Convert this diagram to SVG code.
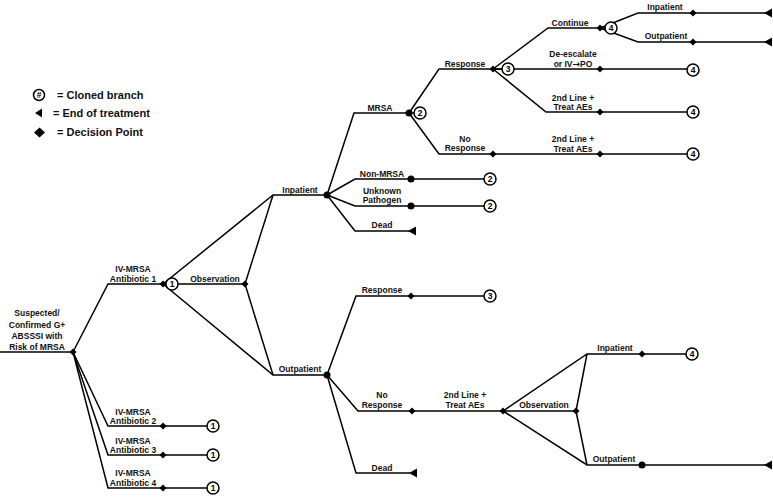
<svg xmlns="http://www.w3.org/2000/svg" xmlns:xlink="http://www.w3.org/1999/xlink" width="773" height="499" viewBox="0 0 773 499">
<style>
.ln{stroke:#000;stroke-width:1.5;fill:none;stroke-linejoin:miter}
.t{font-family:"Liberation Sans",Arial,sans-serif;font-size:8.5px;font-weight:bold;text-anchor:middle;fill:#111}
.lg{font-family:"Liberation Sans",Arial,sans-serif;font-size:11px;font-weight:bold;fill:#111}
.cc{fill:#fff;stroke:#000;stroke-width:1.5}
.cn{font-family:"Liberation Sans",Arial,sans-serif;font-size:8.5px;font-weight:bold;text-anchor:middle;fill:#000}
.ar{font-family:"DejaVu Sans",sans-serif;font-size:9px;font-weight:bold}
</style>
<defs>
<path id="dm" d="M0,-3.5L3.5,0L0,3.5L-3.5,0Z" fill="#000"/>
<circle id="dt" r="3.5" fill="#000"/>
<path id="tri" d="M0,0L8,-4.5L8,4.5Z" fill="#000"/>
</defs>
<rect width="773" height="499" fill="#fff"/>

<g id="legend">
<circle class="cc" cx="39" cy="95" r="5.5"/><text class="cn" x="39" y="97.5" font-size="7">#</text>
<text class="lg" x="57" y="99">= Cloned branch</text>
<path d="M35,113L42,108.5L42,117.5Z" fill="#000"/>
<text class="lg" x="53" y="117">= End of treatment</text>
<path d="M39.5,127.5L45,132.5L39.5,137.5L34,132.5Z" fill="#000"/>
<text class="lg" x="57" y="136">= Decision Point</text>
</g>

<g id="connectors">
<path class="ln" d="M0,352H73"/>
<path class="ln" d="M73,352L108,284H163"/>
<path class="ln" d="M73,352L108,426H213"/>
<path class="ln" d="M73,352L108,455H213"/>
<path class="ln" d="M73,352L108,488H213"/>
<path class="ln" d="M163,284L273,195H327"/>
<path class="ln" d="M163,284H245"/>
<path class="ln" d="M163,284L273,375H327"/>
<path class="ln" d="M245,284L273,195"/>
<path class="ln" d="M245,284L273,375"/>
<path class="ln" d="M327,195L354,113H420"/>
<path class="ln" d="M327,195L355,179H490"/>
<path class="ln" d="M327,195L355,206H490"/>
<path class="ln" d="M327,195L355,231H410"/>
<path class="ln" d="M409,113L439,69H508"/>
<path class="ln" d="M409,113L439,154H693"/>
<path class="ln" d="M493,69L548,28H611"/>
<path class="ln" d="M493,69H693"/>
<path class="ln" d="M493,69L546,112H693"/>
<path class="ln" d="M600,28L638,13H766"/>
<path class="ln" d="M600,28L638,42H766"/>
<path class="ln" d="M327,375L356,296H490"/>
<path class="ln" d="M327,375L358,411H503"/>
<path class="ln" d="M327,375L356,473H410"/>
<path class="ln" d="M503,411L587,354H692"/>
<path class="ln" d="M503,411H576"/>
<path class="ln" d="M503,411L587,465H766"/>
<path class="ln" d="M576,411L587,354"/>
<path class="ln" d="M576,411L587,465"/>
</g>

<g id="root">
<use xlink:href="#dm" x="73" y="352"/>
<text class="t" x="37" y="316">Suspected/</text>
<text class="t" x="37" y="327.5">Confirmed G+</text>
<text class="t" x="37" y="339">ABSSSI with</text>
<text class="t" x="37" y="350">Risk of MRSA</text>
</g>

<g id="ab1">
<text class="t" x="133" y="271.5">IV-MRSA</text>
<text class="t" x="133" y="282">Antibiotic 1</text>
<use xlink:href="#dm" x="163" y="284"/>
<circle class="cc" cx="172" cy="284" r="6"/><text class="cn" x="172" y="287">1</text>
</g>
<g id="ab2">
<text class="t" x="133" y="414.5">IV-MRSA</text>
<text class="t" x="133" y="424">Antibiotic 2</text>
<use xlink:href="#dm" x="163" y="426"/>
<circle class="cc" cx="213" cy="426" r="6"/><text class="cn" x="213" y="429">1</text>
</g>
<g id="ab3">
<text class="t" x="133" y="444">IV-MRSA</text>
<text class="t" x="133" y="453">Antibiotic 3</text>
<use xlink:href="#dm" x="163" y="455"/>
<circle class="cc" cx="213" cy="455" r="6"/><text class="cn" x="213" y="458">1</text>
</g>
<g id="ab4">
<text class="t" x="133" y="476">IV-MRSA</text>
<text class="t" x="133" y="486">Antibiotic 4</text>
<use xlink:href="#dm" x="163" y="488"/>
<circle class="cc" cx="213" cy="488" r="6"/><text class="cn" x="213" y="491">1</text>
</g>

<g id="observation1">
<text class="t" x="215" y="281.5">Observation</text>
<use xlink:href="#dm" x="245" y="284"/>
</g>

<g id="inpatient1">
<text class="t" x="300" y="193">Inpatient</text>
<use xlink:href="#dt" x="327" y="195"/>
</g>

<g id="mrsa">
<text class="t" x="380" y="111">MRSA</text>
<use xlink:href="#dt" x="409" y="113"/>
<circle class="cc" cx="420" cy="113" r="6"/><text class="cn" x="420" y="116">2</text>
</g>
<g id="nonmrsa">
<text class="t" x="382" y="177">Non-MRSA</text>
<use xlink:href="#dt" x="411" y="179"/>
<circle class="cc" cx="490" cy="179" r="6"/><text class="cn" x="490" y="182">2</text>
</g>
<g id="unknown">
<text class="t" x="382" y="193.5">Unknown</text>
<text class="t" x="382" y="202.5">Pathogen</text>
<use xlink:href="#dt" x="411" y="206"/>
<circle class="cc" cx="490" cy="206" r="6"/><text class="cn" x="490" y="209">2</text>
</g>
<g id="dead1">
<text class="t" x="382" y="228">Dead</text>
<use xlink:href="#tri" x="408" y="231"/>
</g>

<g id="response1">
<text class="t" x="465" y="67">Response</text>
<use xlink:href="#dm" x="493" y="69"/>
<circle class="cc" cx="508" cy="69" r="6"/><text class="cn" x="508" y="72">3</text>
</g>
<g id="noresponse1">
<text class="t" x="465" y="142">No</text>
<text class="t" x="465" y="151">Response</text>
<use xlink:href="#dm" x="493" y="154"/>
<text class="t" x="573" y="142">2nd Line +</text>
<text class="t" x="573" y="151.5">Treat AEs</text>
<use xlink:href="#dm" x="600" y="154"/>
<circle class="cc" cx="693" cy="154" r="6"/><text class="cn" x="693" y="157">4</text>
</g>

<g id="continue">
<text class="t" x="570" y="26">Continue</text>
<use xlink:href="#dm" x="600" y="28"/>
<circle class="cc" cx="611" cy="28" r="6"/><text class="cn" x="611" y="31">4</text>
</g>
<g id="inpatient-top">
<text class="t" x="665" y="9.5">Inpatient</text>
<use xlink:href="#dm" x="693" y="13"/>
<use xlink:href="#tri" x="764" y="13"/>
</g>
<g id="outpatient-top">
<text class="t" x="666" y="38.5">Outpatient</text>
<use xlink:href="#dm" x="693" y="42"/>
<use xlink:href="#tri" x="764" y="42"/>
</g>
<g id="deescalate">
<text class="t" x="573" y="57">De-escalate</text>
<text class="t" x="573" y="66.5">or IV<tspan class="ar">→</tspan>PO</text>
<use xlink:href="#dm" x="600" y="69"/>
<circle class="cc" cx="693" cy="70" r="6"/><text class="cn" x="693" y="73">4</text>
</g>
<g id="secondline1">
<text class="t" x="573" y="101">2nd Line +</text>
<text class="t" x="573" y="110">Treat AEs</text>
<use xlink:href="#dm" x="600" y="112"/>
<circle class="cc" cx="693" cy="112" r="6"/><text class="cn" x="693" y="115">4</text>
</g>

<g id="outpatient1">
<text class="t" x="300" y="372">Outpatient</text>
<use xlink:href="#dt" x="327" y="375"/>
</g>
<g id="response2">
<text class="t" x="382" y="293">Response</text>
<use xlink:href="#dm" x="411" y="296"/>
<circle class="cc" cx="490" cy="296" r="6"/><text class="cn" x="490" y="299">3</text>
</g>
<g id="noresponse2">
<text class="t" x="382" y="398">No</text>
<text class="t" x="382" y="408">Response</text>
<use xlink:href="#dm" x="412" y="411"/>
</g>
<g id="secondline2">
<text class="t" x="465" y="397.5">2nd Line +</text>
<text class="t" x="465" y="407.5">Treat AEs</text>
<use xlink:href="#dm" x="503" y="411"/>
</g>
<g id="dead2">
<text class="t" x="382" y="471">Dead</text>
<use xlink:href="#tri" x="409" y="473"/>
</g>
<g id="observation2">
<text class="t" x="544" y="408">Observation</text>
<use xlink:href="#dm" x="576" y="411"/>
</g>
<g id="inpatient2">
<text class="t" x="615" y="351">Inpatient</text>
<use xlink:href="#dm" x="642" y="354"/>
<circle class="cc" cx="692" cy="354" r="6"/><text class="cn" x="692" y="357">4</text>
</g>
<g id="outpatient2">
<text class="t" x="614" y="461.5">Outpatient</text>
<use xlink:href="#dt" x="642" y="465"/>
<use xlink:href="#tri" x="764" y="465"/>
</g>
</svg>
